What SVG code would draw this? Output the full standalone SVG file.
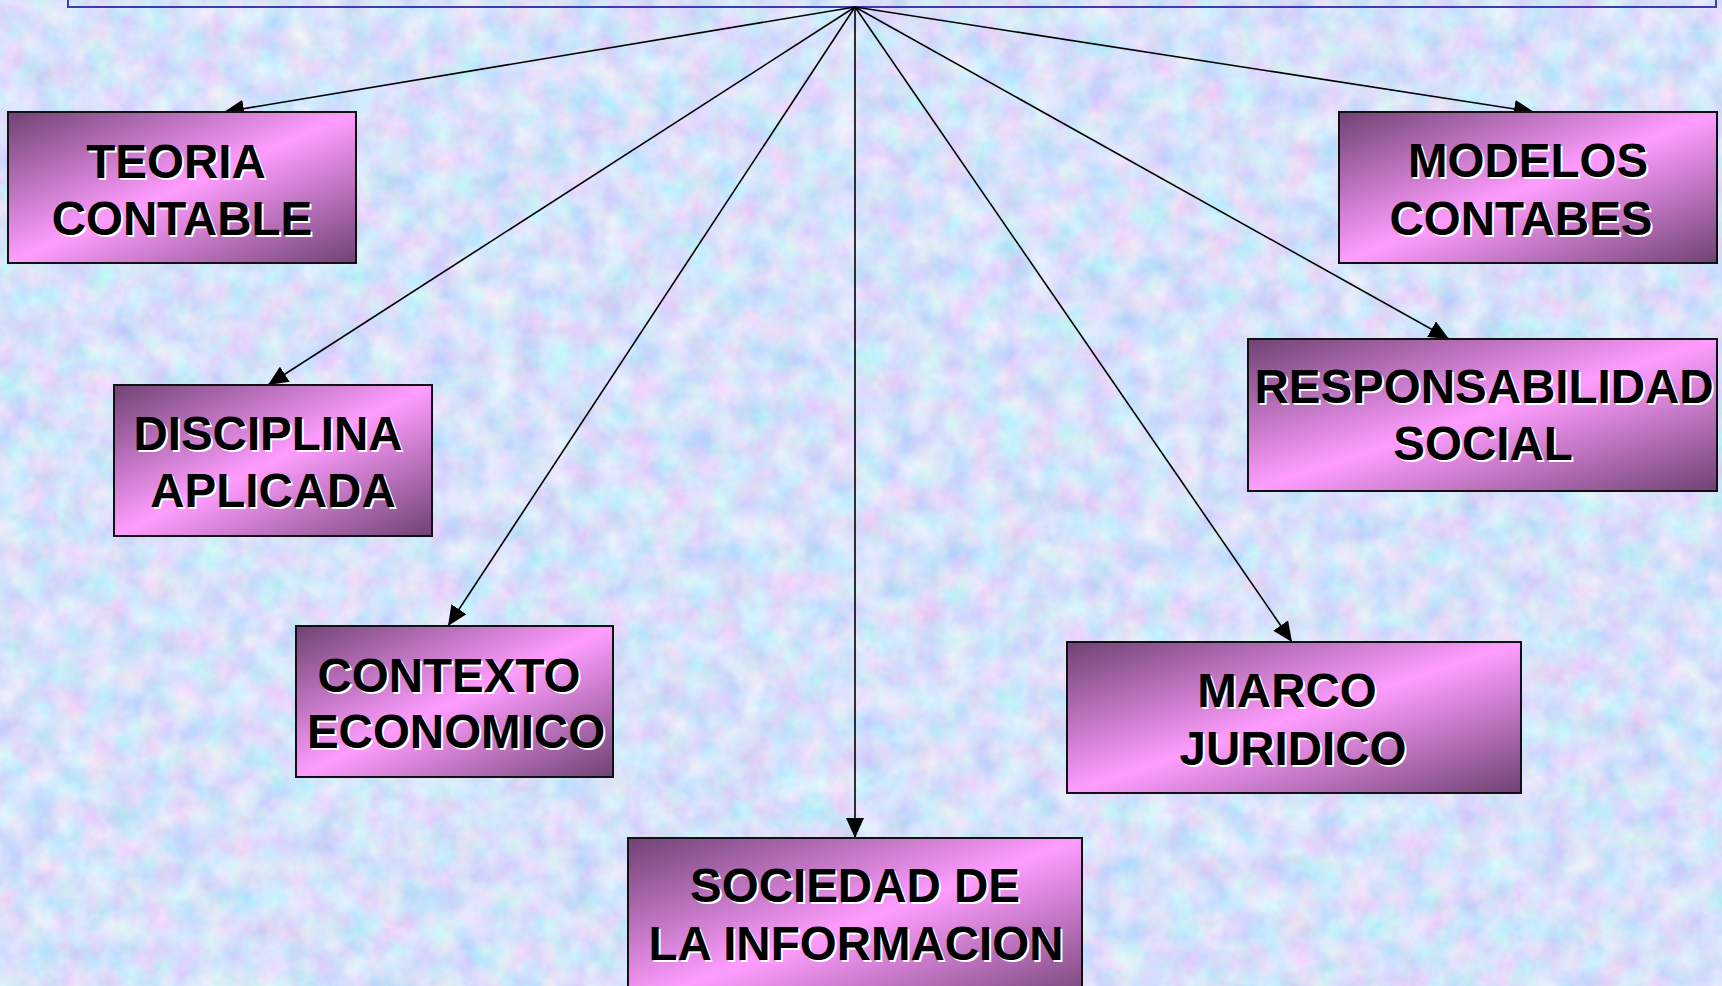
<svg xmlns="http://www.w3.org/2000/svg" width="1722" height="986" viewBox="0 0 1722 986">
<defs>
<filter id="tex" x="0" y="0" width="100%" height="100%" filterUnits="userSpaceOnUse">
<feTurbulence type="fractalNoise" baseFrequency="0.035" numOctaves="4" seed="7"/>
<feColorMatrix type="matrix" values="0.6 0 0 0 0.38  0 0.45 0 0 0.535  0 0 0.2 0 0.86  0 0 0 0 1"/>
</filter>
<linearGradient id="boxg" x1="0" y1="0" x2="1" y2="1">
<stop offset="0" stop-color="#6f4273"/>
<stop offset="0.5" stop-color="#ff9dff"/>
<stop offset="1" stop-color="#6f4273"/>
</linearGradient>
<marker id="arr" markerUnits="userSpaceOnUse" markerWidth="20" markerHeight="18" viewBox="0 0 20 18" refX="20" refY="9" orient="auto">
<path d="M0,0 L20,9 L0,18 Z" fill="#000"/>
</marker>
<style>
.box{fill:url(#boxg);stroke:#111;stroke-width:2}
.t{font-family:"Liberation Sans",Arial,sans-serif;font-weight:bold;font-size:47.5px;text-anchor:middle}
.sh{fill:#fff}
.fg{fill:#000}
.con{stroke:#000;stroke-width:1.6;fill:none;marker-end:url(#arr)}
</style>
</defs>
<rect x="0" y="0" width="1722" height="986" fill="#b0c6f4"/>
<rect x="0" y="0" width="1722" height="986" filter="url(#tex)"/>
<rect x="68" y="-20" width="1648" height="27" fill="none" stroke="#3c3cb4" stroke-width="2"/>
<g id="connectors">
<line class="con" x1="855" y1="7" x2="224" y2="112"/>
<line class="con" x1="855" y1="7" x2="1534" y2="112"/>
<line class="con" x1="855" y1="7" x2="1449" y2="339"/>
<line class="con" x1="855" y1="7" x2="268" y2="385"/>
<line class="con" x1="855" y1="7" x2="448" y2="626"/>
<line class="con" x1="855" y1="7" x2="855" y2="838"/>
<line class="con" x1="855" y1="7" x2="1292" y2="642"/>
</g>
<g id="teoria">
<rect class="box" x="8" y="112" width="348" height="151"/>
<text class="t sh" x="178" y="180">TEORIA</text><text class="t fg" x="176" y="178">TEORIA</text>
<text class="t sh" x="184" y="237">CONTABLE</text><text class="t fg" x="182" y="235">CONTABLE</text>
</g>
<g id="modelos">
<rect class="box" x="1339" y="112" width="378" height="151"/>
<text class="t sh" x="1530" y="179">MODELOS</text><text class="t fg" x="1528" y="177">MODELOS</text>
<text class="t sh" x="1523" y="237">CONTABES</text><text class="t fg" x="1521" y="235">CONTABES</text>
</g>
<g id="responsabilidad">
<rect class="box" x="1248" y="339" width="469" height="152"/>
<text class="t sh" x="1486" y="405">RESPONSABILIDAD</text><text class="t fg" x="1484" y="403">RESPONSABILIDAD</text>
<text class="t sh" x="1485" y="462">SOCIAL</text><text class="t fg" x="1483" y="460">SOCIAL</text>
</g>
<g id="disciplina">
<rect class="box" x="114" y="385" width="318" height="151"/>
<text class="t sh" x="270" y="452">DISCIPLINA</text><text class="t fg" x="268" y="450">DISCIPLINA</text>
<text class="t sh" x="275" y="509">APLICADA</text><text class="t fg" x="273" y="507">APLICADA</text>
</g>
<g id="contexto">
<rect class="box" x="296" y="626" width="317" height="151"/>
<text class="t sh" x="451" y="694">CONTEXTO</text><text class="t fg" x="449" y="692">CONTEXTO</text>
<text class="t sh" x="458" y="750">ECONOMICO</text><text class="t fg" x="456" y="748">ECONOMICO</text>
</g>
<g id="marco">
<rect class="box" x="1067" y="642" width="454" height="151"/>
<text class="t sh" x="1289" y="709">MARCO</text><text class="t fg" x="1287" y="707">MARCO</text>
<text class="t sh" x="1295" y="767">JURIDICO</text><text class="t fg" x="1293" y="765">JURIDICO</text>
</g>
<g id="sociedad">
<rect class="box" x="628" y="838" width="454" height="170"/>
<text class="t sh" x="857" y="904">SOCIEDAD DE</text><text class="t fg" x="855" y="902">SOCIEDAD DE</text>
<text class="t sh" x="858" y="962">LA INFORMACION</text><text class="t fg" x="856" y="960">LA INFORMACION</text>
</g>
</svg>
